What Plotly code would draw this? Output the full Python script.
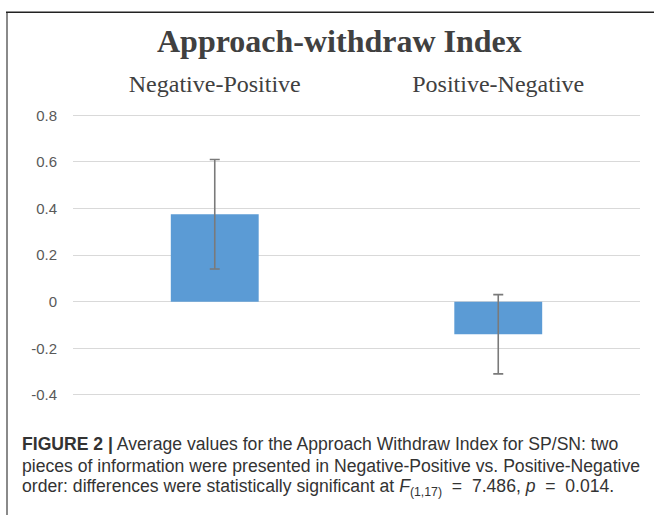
import plotly.graph_objects as go

categories = ["Negative-Positive", "Positive-Negative"]
values = [0.375, -0.14]
errors = [0.235, 0.17]
tick_vals = [0.8, 0.6, 0.4, 0.2, 0, -0.2, -0.4]
tick_text = ["0.8", "0.6", "0.4", "0.2", "0", "-0.2", "-0.4"]

W, H = 654, 519

fig = go.Figure()
fig.add_trace(go.Bar(
    x=categories, y=values,
    marker=dict(color="#5b9bd5", line=dict(width=0)),
    width=0.31,
    error_y=dict(type="data", array=errors, visible=True,
                 color="#7a7a7a", thickness=1.6, width=5),
))

fig.update_layout(
    width=W, height=H,
    margin=dict(l=0, r=0, t=0, b=0),
    paper_bgcolor="white", plot_bgcolor="white",
    showlegend=False,
    xaxis=dict(domain=[73 / W, 640 / W], side="top",
               tickfont=dict(family="Liberation Serif", size=24, color="#404040"),
               showgrid=False, showline=False, ticks="", ticklabelstandoff=13),
    yaxis=dict(domain=[1 - 401.7 / H, 1 - 108.3 / H], range=[-0.42, 0.82],
               tickvals=tick_vals, ticktext=tick_text,
               tickfont=dict(family="Liberation Sans", size=15, color="#595959"),
               showgrid=True, gridcolor="#d9d9d9", gridwidth=1,
               zeroline=False, showline=False, ticks="", ticklabelstandoff=15),
)

fig.add_annotation(text="<b>Approach-withdraw Index</b>", xref="paper", yref="paper",
                   x=340 / W, y=1 - 38 / H, xanchor="center", yanchor="middle",
                   showarrow=False,
                   font=dict(family="Liberation Serif", size=32, color="#404040"))

caption_lines = [
    "<b>FIGURE 2 |</b> Average values for the Approach Withdraw Index for SP/SN: two",
    "pieces of information were presented in Negative-Positive vs. Positive-Negative",
    "order: differences were statistically significant at <i>F</i><sub>(1,17)</sub>"
    "&nbsp;&nbsp;=&nbsp;&nbsp;7.486, <i>p</i>&nbsp;&nbsp;=&nbsp;&nbsp;0.014.",
]
caption_y = [447, 469, 491]
for line, yy in zip(caption_lines, caption_y):
    fig.add_annotation(text=line, xref="paper", yref="paper",
                       x=20 / W, y=1 - yy / H, xanchor="left", yanchor="middle",
                       showarrow=False,
                       font=dict(family="Liberation Sans", size=17.6, color="#333333"))

fig.add_shape(type="line", xref="paper", yref="paper",
              x0=7 / W, x1=7 / W, y0=0, y1=1 - 8.5 / H,
              line=dict(color="#8a8a8a", width=2))
fig.add_shape(type="line", xref="paper", yref="paper",
              x0=6 / W, x1=1, y0=1 - 8.5 / H, y1=1 - 8.5 / H,
              line=dict(color="#222222", width=1.5))

fig.write_html("out.html", config={"displayModeBar": False},
               post_script="document.body.style.margin='0';document.body.style.padding='0';document.body.style.overflow='hidden';")
